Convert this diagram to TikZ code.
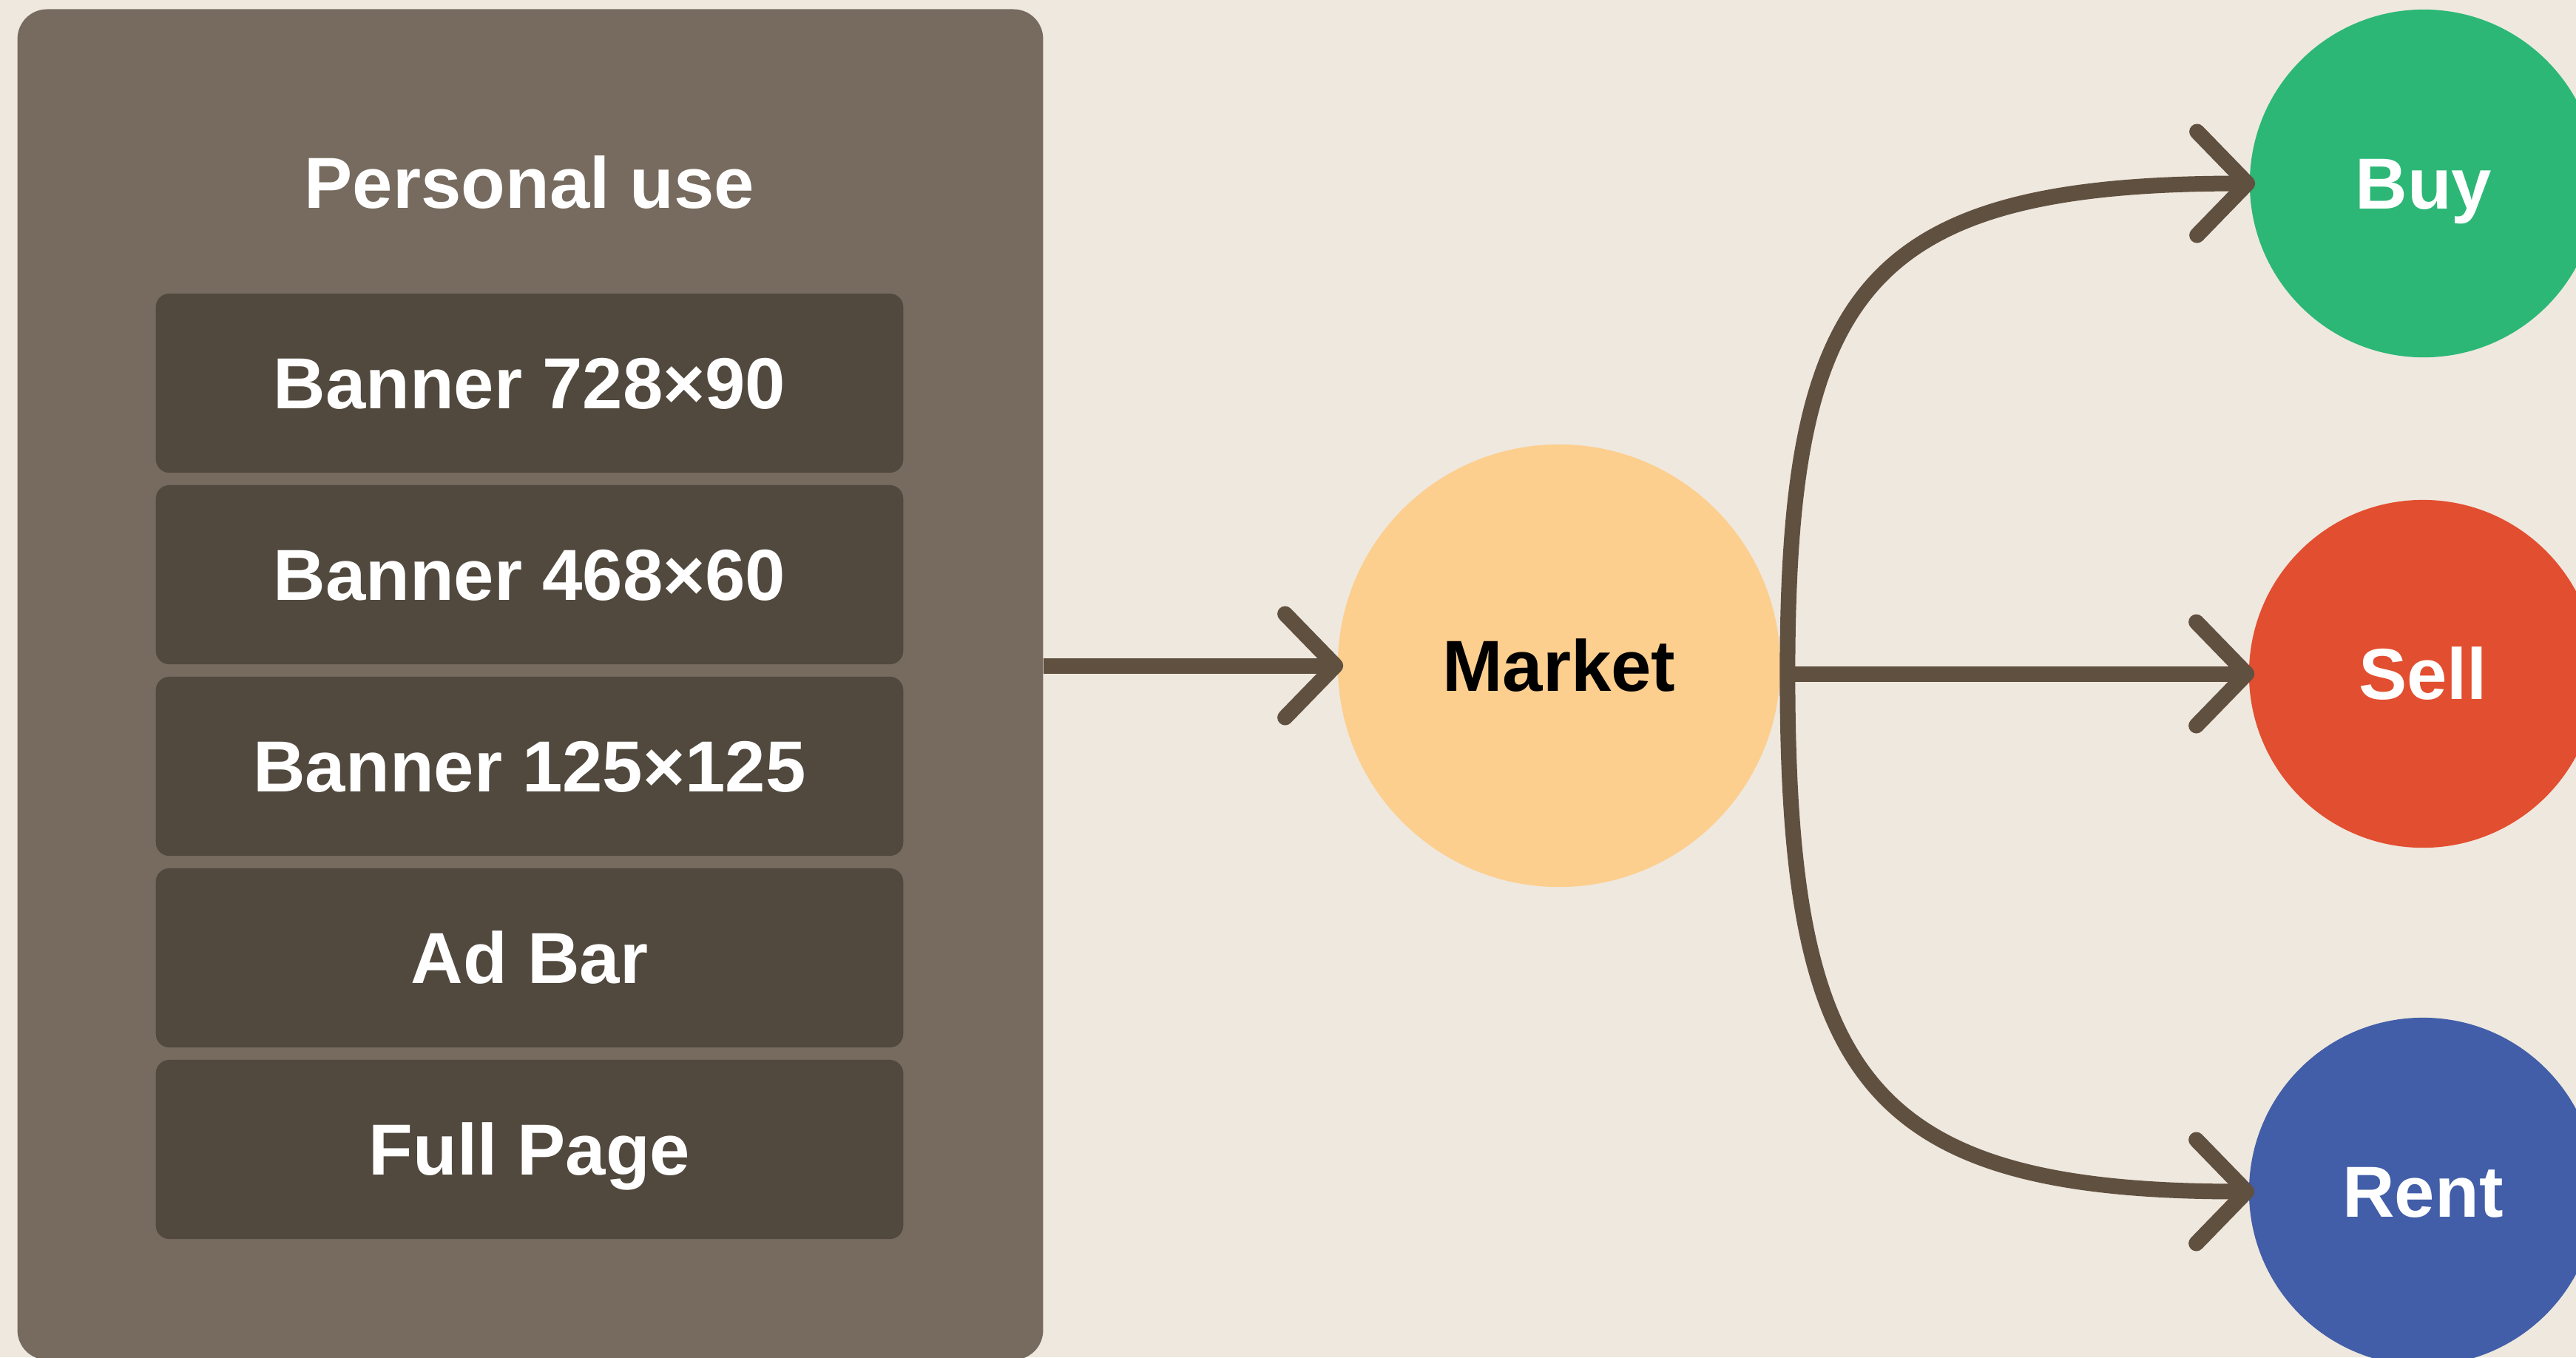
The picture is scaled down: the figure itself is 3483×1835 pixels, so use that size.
\documentclass[tikz,border=0pt]{standalone}
\usepackage{fontspec}
\setmainfont{Liberation Sans}
\usetikzlibrary{arrows.meta,calc}
\definecolor{bg}{HTML}{EFE8DE}
\definecolor{outerbox}{HTML}{766B5E}
\definecolor{innerbox}{HTML}{51493E}
\definecolor{conncol}{HTML}{605040}
\definecolor{marketcol}{HTML}{FCCF8F}
\definecolor{buycol}{HTML}{2CB776}
\definecolor{sellcol}{HTML}{E24E30}
\definecolor{rentcol}{HTML}{425EA8}
\begin{document}
\begin{tikzpicture}[x=0.01cm,y=-0.01cm,
  lbl/.style={font=\fontsize{27.8pt}{30pt}\selectfont\bfseries, text height=19.5pt, text depth=0pt, inner sep=0pt},
  groupbox/.style={fill=outerbox, rounded corners=0.4cm, minimum width=13.86cm, minimum height=18.25cm, inner sep=0pt},
  itembox/.style={lbl, fill=innerbox, rounded corners=0.18cm, minimum width=10.1cm, minimum height=2.42cm, text=white},
  circ/.style={lbl, circle, minimum size=4.7cm, text=white},
  conn/.style={draw=conncol, line width=0.21cm, -{Straight Barb[length=0.68cm,width=1.4cm,round]}, shorten >=-0.08cm}
]
\useasboundingbox[fill=bg] (0,0) rectangle (3483,1835);

\node[groupbox] (group) at (717,925.5) {};
\node[lbl, text=white] (title) at (716,247) {Personal use};
\node[itembox] (b1) at (716,518) {Banner 728×90};
\node[itembox] (b2) at (716,777) {Banner 468×60};
\node[itembox] (b3) at (716,1036) {Banner 125×125};
\node[itembox] (b4) at (716,1295) {Ad Bar};
\node[itembox] (b5) at (716,1554) {Full Page};

\node[circ, minimum size=5.98cm, fill=marketcol, text=black] (market) at (2108,900) {Market};
\node[circ, fill=buycol] (buy) at (3277,248) {Buy};
\node[circ, fill=sellcol] (sell) at (3276,911) {Sell};
\node[circ, fill=rentcol] (rent) at (3276,1611) {Rent};

\coordinate (mkout) at ($(market.east)+(9,11)$);

\draw[conn] (group.east |- market.west) -- (market.west);
\draw[conn] (mkout) -- (sell.west);
\draw[conn] (mkout) .. controls +(0,-520) and +(-520,0) .. (buy.west);
\draw[conn] (mkout) .. controls +(0,545) and +(-520,0) .. (rent.west);
\end{tikzpicture}
\end{document}
